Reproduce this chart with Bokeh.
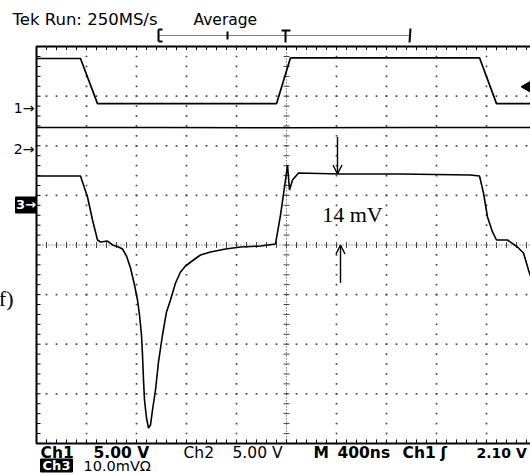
import numpy as np
from bokeh.plotting import figure
from bokeh.models import Range1d, Arrow, OpenHead
from bokeh.core.properties import value
from bokeh.embed import file_html
from bokeh.resources import INLINE

# ---------------- data (time in ns, 400 ns/div, trigger at t=0) ----------------
ch1_t = [-2000, -1648, -1512, -80, 32, 1544, 1680, 1952]
ch1_v = [4.95, 4.95, 0.40, 0.40, 5.02, 5.02, 0.40, 0.40]          # volts

ch2_t = [-2000, -1000, 0, 1000, 1952]
ch2_v = [2.12, 2.12, 2.10, 2.12, 2.12]                             # volts

ch3_t = [-2000, -1648, -1592, -1552, -1512, -1488, -1432, -1392, -1344, -1312,
         -1280, -1248, -1216, -1192, -1176, -1160, -1152, -1144, -1136, -1120,
         -1104, -1088, -1072, -1048, -1024, -992, -960, -928, -888, -848,
         -808, -744, -688, -608, -488, -368, -208, -88, -48, -8,
         8, 24, 48, 96, 432, 912, 1472, 1544, 1576, 1608,
         1648, 1680, 1768, 1848, 1896, 1936, 1952]
ch3_v = [5.85, 5.85, 1.61, -3.02, -7.06, -7.46, -7.26, -8.06, -8.47, -8.87,
         -10.28, -12.70, -16.13, -19.15, -22.18, -26.21, -30.24, -35.28, -39.31, -42.94,
         -44.96, -44.35, -41.33, -37.30, -31.65, -26.21, -21.57, -19.15, -15.73, -13.51,
         -12.30, -11.09, -10.08, -9.48, -8.87, -8.47, -8.27, -7.86, -2.02, 5.04,
         8.06, 3.02, 5.04, 6.45, 6.25, 6.25, 6.05, 5.85, 2.42, -2.42,
         -5.44, -7.06, -7.06, -8.47, -9.68, -13.10, -14.31]        # millivolts

# channel scale (units/div) and ground-marker offset (div)
ch1_scale, ch1_off = 5.0, 2.77
ch2_scale, ch2_off = 5.0, 1.945
ch3_scale, ch3_off = 10.0, 0.8065
trig_level = 2.10

delta_label = "14 mV"
delta_top = [13.7, 6.25]
delta_bot = [-15.7, -8.06]
delta_x = [408, 432]

# ---------------- layout ----------------
W, H = 530, 474
NS_DIV, PX_DIV_X, PX_DIV_Y = 400.0, 50.0, 49.6
CX, CY = 286.0, 244.5       # screen centre (px from left / top)
x0 = -CX / PX_DIV_X * NS_DIV
x1 = (W - CX) / PX_DIV_X * NS_DIV
y1 = CY / PX_DIV_Y
y0 = -(H - CY) / PX_DIV_Y

p = figure(width=W, height=H, x_range=Range1d(x0, x1), y_range=Range1d(y0, y1),
           x_axis_location=None, y_axis_location=None, toolbar_location=None,
           output_backend="svg", min_border=0, outline_line_color=None,
           background_fill_color="white", border_fill_color="white")
p.xgrid.visible = False
p.ygrid.visible = False

def rng(off, scale):
    return Range1d((y0 - off) * scale, (y1 - off) * scale)

p.extra_y_ranges = {"ch1": rng(ch1_off, ch1_scale),
                    "ch2": rng(ch2_off, ch2_scale),
                    "ch3": rng(ch3_off, ch3_scale)}

GRID = "#444444"
XL, XR = -5 * NS_DIV, 5 * NS_DIV
# dotted graticule
gx, gy = [], []
for k in range(-4, 5):
    if k == 0:
        continue
    for yy in np.arange(-4, 4.001, 0.2):
        gx.append(k * NS_DIV); gy.append(yy)
for k in range(-3, 4):
    if k == 0:
        continue
    for xx in np.arange(XL, XR + 1, NS_DIV / 5):
        gx.append(xx); gy.append(k)
p.scatter(gx, gy, marker="square", size=1.7, color=GRID, line_color=None)

# centre cross-hair
p.line([XL, XR], [0, 0], line_color=GRID, line_width=1, line_dash="1 2")
p.line([0, 0], [-4, 4], line_color=GRID, line_width=1, line_dash="1 2")
tx = np.arange(XL, XR + 1, NS_DIV / 5)
p.segment(x0=tx, y0=-0.06, x1=tx, y1=0.06, line_color=GRID, line_width=1)
ty = np.arange(-4, 4.001, 0.2)
p.segment(x0=-24, y0=ty, x1=24, y1=ty, line_color=GRID, line_width=1)

# border with ticks
p.segment(x0=XL, y0=ty, x1=XL + 32, y1=ty, line_color="black", line_width=1)
p.segment(x0=tx, y0=-4, x1=tx, y1=-3.92, line_color="black", line_width=1)
p.segment(x0=tx, y0=4, x1=tx, y1=3.93, line_color="black", line_width=1)
p.line([x1 + 100, XL, XL, x1 + 100], [4, 4, -4, -4], line_color="black", line_width=2)

# traces
p.line(ch1_t, ch1_v, y_range_name="ch1", line_color="black", line_width=1.7)
p.line(ch2_t, ch2_v, y_range_name="ch2", line_color="black", line_width=1.5)
p.line(ch3_t, ch3_v, y_range_name="ch3", line_color="black", line_width=1.6)

# trigger level marker
p.scatter([x1 - 16], [trig_level], y_range_name="ch1", marker="triangle",
          angle=np.pi / 2, size=13, color="black")

# delta annotation
p.add_layout(Arrow(end=OpenHead(size=9, line_width=1.4), x_start=delta_x[0], y_start=delta_top[0],
                   x_end=delta_x[0], y_end=delta_top[1], y_range_name="ch3", line_width=1.4))
p.add_layout(Arrow(end=OpenHead(size=9, line_width=1.4), x_start=delta_x[1], y_start=delta_bot[0],
                   x_end=delta_x[1], y_end=delta_bot[1], y_range_name="ch3", line_width=1.4))
p.text(x=[528], y=[0.615], text=[delta_label], text_font=value("Liberation Serif"),
       text_font_size="22px", text_align="center", text_baseline="middle", text_color="black")

# ---------------- scope readouts ----------------
F = value("DejaVu Sans")
def px_x(px):
    return (px - CX) / PX_DIV_X * NS_DIV
def px_y(py):
    return (CY - py) / PX_DIV_Y

top_txt = ["Tek Run: 250MS/s", "Average"]
top_px = [12, 193]
top_sz = ["16.5px", "15.5px"]
for t, xx, s in zip(top_txt, top_px, top_sz):
    p.text(x=[px_x(xx)], y=[px_y(19)], text=[t], text_font=F,
           text_font_size=s, text_baseline="middle", text_color="black")

bot_txt = ["Ch1", "5.00 V", "Ch2", "5.00 V", "M", "400ns", "Ch1", "ʃ", "2.10 V"]
bot_px = [40, 93, 183, 232, 313, 337, 402, 440, 476]
bot_w = ["bold", "bold", "normal", "normal", "bold", "bold", "bold", "bold", "bold"]
bot_sz = ["15.5px"] * 8 + ["14px"]
for t, xx, w, s in zip(bot_txt, bot_px, bot_w, bot_sz):
    p.text(x=[px_x(xx)], y=[px_y(452)], text=[t], text_font=F, text_font_size=s,
           text_font_style=w, text_baseline="middle", text_color="black")

# Ch3 inverted readout
p.rect(x=[px_x(56)], y=[px_y(465)], width=32 / PX_DIV_X * NS_DIV, height=13 / PX_DIV_Y,
       color="black")
p.text(x=[px_x(56)], y=[px_y(465)], text=["Ch3"], text_font=F, text_font_size="13px",
       text_font_style="bold", text_align="center", text_baseline="middle", text_color="white")
p.text(x=[px_x(83)], y=[px_y(465)], text=["10.0mVΩ"], text_font=F, text_font_size="14.5px",
       text_baseline="middle", text_color="black")

# channel ground markers
p.text(x=[px_x(34)], y=[0], y_range_name="ch1", text=["1→"], text_font=F, text_font_size="14px",
       text_align="right", text_baseline="middle")
p.text(x=[px_x(34)], y=[0], y_range_name="ch2", text=["2→"], text_font=F, text_font_size="14px",
       text_align="right", text_baseline="middle")
p.rect(x=[px_x(25.5)], y=[0], y_range_name="ch3", width=21 / PX_DIV_X * NS_DIV,
       height=16 / PX_DIV_Y * ch3_scale, color="black")
p.text(x=[px_x(25.5)], y=[0], y_range_name="ch3", text=["3→"], text_font=F, text_font_size="13px",
       text_font_style="bold", text_align="center", text_baseline="middle", text_color="white")

# record view bar
rb_y = px_y(35)
p.line([px_x(158), px_x(410)], [rb_y, rb_y], line_color="black", line_width=1, line_dash="1 1")
p.segment(x0=[px_x(158), px_x(158), px_x(158), px_x(410), px_x(227), px_x(281), px_x(285)],
          y0=[px_y(29), px_y(29), px_y(41), px_y(28), px_y(31), px_y(30), px_y(30)],
          x1=[px_x(158), px_x(162), px_x(162), px_x(409), px_x(227), px_x(290), px_x(285)],
          y1=[px_y(41), px_y(29), px_y(41), px_y(42), px_y(39), px_y(30), px_y(42)],
          line_color="black", line_width=2)

# panel letter (cut off at the left edge, as in the reference)
p.text(x=[px_x(13)], y=[px_y(298)], text=["(f)"], text_font=value("Liberation Serif"),
       text_font_size="22px", text_align="right", text_baseline="middle")

open("out.html", "w").write(file_html(p, INLINE))
